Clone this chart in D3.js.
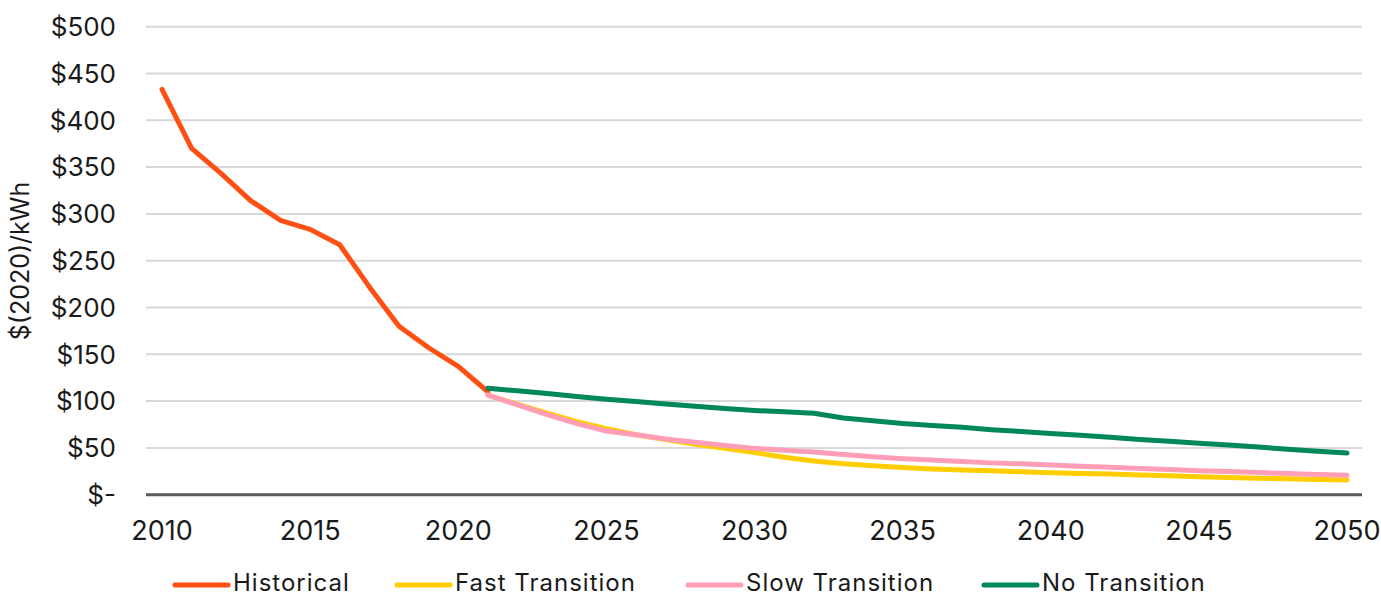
<!DOCTYPE html>
<html><head><meta charset="utf-8">
<script src="https://cdn.jsdelivr.net/npm/d3@7"></script>
<style>body{margin:0;background:#fff}svg{display:block;font-family:Inter,"Noto Sans",sans-serif}</style>
</head><body><svg id="c" width="1381" height="597"></svg>
<script>
const years = d3.range(2010, 2051);
const yTicks = [0,50,100,150,200,250,300,350,400,450,500];
const xTicks = [2010,2015,2020,2025,2030,2035,2040,2045,2050];
const histYears = d3.range(2010, 2022);
const historical = [433,370,343,314,293,283.5,267,222,180,157,137,110];
const projYears = d3.range(2021, 2051);
const fast = [106.5,96.5,87,78,70.5,64,59,54,49.5,45,40,36,33,31,29,27.5,26.5,25.5,24.5,23.5,22.7,22,21,20.2,19.3,18.5,17.7,17,16.3,15.7];
const slow = [106.5,96,85.5,76,68,64,59.5,56,52.5,49.5,47.5,45.5,43,40.5,38.5,37,35.5,34,33,31.7,30.5,29.3,28,27,25.7,24.7,23.7,22.7,21.7,20.7];
const noTrans = [113.7,111,108,105,102,99.5,97,94.5,92,90,88.5,87,82,79,76,74,72,69.5,67.5,65.5,63.5,61.5,59,57,55,53,51,48.5,46.5,44.5];
const seriesNames = ["Historical","Fast Transition","Slow Transition","No Transition"];
const colors = ["#FF4F12","#FFCD00","#FF9EB6","#00875A"];

const svg = d3.select("#c");
const x = d3.scalePoint().domain(years).range([162,1347]);
const y = d3.scaleLinear().domain([0,500]).range([494.7,26.7]);

const g = svg.append("g");
g.selectAll("line.grid").data(yTicks.filter(d=>d>0)).join("line")
 .attr("x1",146).attr("x2",1362).attr("y1",d=>y(d)).attr("y2",d=>y(d))
 .attr("stroke","#d9d9d9").attr("stroke-width",2);

// y tick labels
g.selectAll("text.yt").data(yTicks).join("text")
 .attr("x",116).attr("y",d=>y(d)).attr("dy","0.36em").attr("text-anchor","end")
 .attr("font-size",26).attr("fill","#1a1a1a")
 .text(d=> d===0 ? "$-" : "$"+d);

// x tick labels
g.selectAll("text.xt").data(xTicks).join("text")
 .attr("x",d=>x(d)).attr("y",540).attr("text-anchor","middle")
 .attr("font-size",27).attr("fill","#1a1a1a").text(d=>d);

// axis title
svg.append("text").attr("transform","translate(29,261) rotate(-90)")
 .attr("text-anchor","middle").attr("font-size",25).attr("fill","#1a1a1a").text("$(2020)/kWh");

const line = d3.line().x(d=>x(d[0])).y(d=>y(d[1]));
const data = [
 d3.zip(histYears, historical),
 d3.zip(projYears, fast),
 d3.zip(projYears, slow),
 d3.zip(projYears, noTrans)
];
data.forEach((d,i)=>{
 g.append("path").attr("d",line(d)).attr("fill","none").attr("stroke",colors[i])
  .attr("stroke-width",5).attr("stroke-linejoin","round").attr("stroke-linecap","round");
});

// x axis line
g.append("line").attr("x1",146).attr("x2",1362).attr("y1",y(0)).attr("y2",y(0))
 .attr("stroke","#595959").attr("stroke-width",3);

// legend
const legX = [175,397,688,984];
const lg = svg.append("g");
seriesNames.forEach((n,i)=>{
 lg.append("line").attr("x1",legX[i]).attr("x2",legX[i]+53).attr("y1",585).attr("y2",585)
  .attr("stroke",colors[i]).attr("stroke-width",5).attr("stroke-linecap","round");
 lg.append("text").attr("x",legX[i]+58).attr("y",591)
  .attr("font-size",24).attr("letter-spacing",1).attr("fill","#1a1a1a").text(n);
});
</script></body></html>
